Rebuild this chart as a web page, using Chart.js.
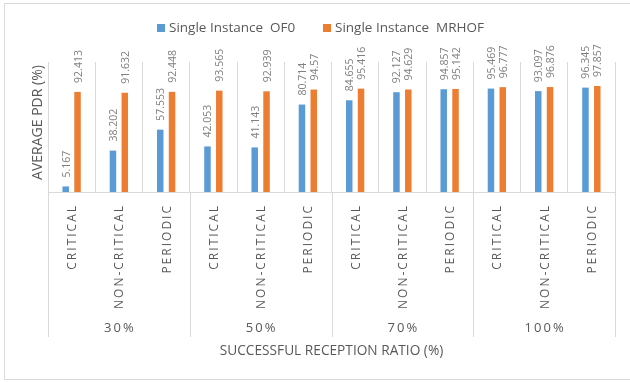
<!DOCTYPE html>
<html>
<head>
<meta charset="utf-8">
<script src="https://cdn.jsdelivr.net/npm/chart.js@4/dist/chart.umd.min.js"></script>
<style>
  html, body { margin: 0; padding: 0; background: #fff; }
  #wrap { width: 630px; height: 382px; position: relative; }
</style>
</head>
<body>
<div id="wrap"><canvas id="pdr" width="630" height="382"></canvas></div>
<script>
// Successful reception ratio groups and traffic types within each group
const groups = ['30%', '50%', '70%', '100%'];
const trafficTypes = ['CRITICAL', 'NON-CRITICAL', 'PERIODIC'];
const categories = groups.flatMap(() => trafficTypes);

// Average PDR (%) per category
const of0Values   = [5.167, 38.202, 57.553, 42.053, 41.143, 80.714, 84.655, 92.127, 94.857, 95.469, 93.097, 96.345];
const mrhofValues = [92.413, 91.632, 92.448, 93.565, 92.939, 94.57, 95.416, 94.629, 95.142, 96.777, 96.876, 97.857];

const seriesNames = ['Single Instance  OF0', 'Single Instance  MRHOF'];
const seriesColors = ['#5B9BD5', '#ED7D31'];
const yTitle = 'AVERAGE PDR (%)';
const xTitle = 'SUCCESSFUL RECEPTION RATIO (%)';

const FONT = '"Open Sans", "Noto Sans", sans-serif';
const GRID = '#d9d9d9';
const TEXT = '#595959';

// Frame, value labels, two-level category axis, titles and legend
const decorations = {
  id: 'decorations',
  beforeDraw(chart) {
    const ctx = chart.ctx;
    ctx.save();
    ctx.fillStyle = '#fff';
    ctx.fillRect(0, 0, chart.width, chart.height);
    ctx.strokeStyle = GRID;
    ctx.lineWidth = 1;
    ctx.beginPath();
    ctx.moveTo(chart.width, 3.5); ctx.lineTo(4.5, 3.5);
    ctx.lineTo(4.5, 379.5); ctx.lineTo(chart.width, 379.5);
    ctx.stroke();
    ctx.restore();
  },
  afterDraw(chart) {
    const ctx = chart.ctx;
    const area = chart.chartArea;
    const xs = chart.scales.x;

    // value labels above each bar
    ctx.save();
    ctx.fillStyle = '#7f7f7f';
    ctx.font = '10.5px ' + FONT;
    ctx.textAlign = 'left';
    ctx.textBaseline = 'middle';
    chart.data.datasets.forEach((ds, di) => {
      chart.getDatasetMeta(di).data.forEach((bar, i) => {
        ctx.save();
        ctx.translate(bar.x + 1, bar.y - 9);
        ctx.rotate(-Math.PI / 2);
        ctx.fillText(String(ds.data[i]), 0, 0);
        ctx.restore();
      });
    });
    ctx.restore();

    // traffic type labels (rotated)
    ctx.save();
    ctx.fillStyle = TEXT;
    ctx.font = '12px ' + FONT;
    ctx.letterSpacing = '2px';
    ctx.textAlign = 'right';
    ctx.textBaseline = 'middle';
    categories.forEach((lab, i) => {
      ctx.save();
      ctx.translate(xs.getPixelForValue(i) + 1, area.bottom + 12);
      ctx.rotate(-Math.PI / 2);
      ctx.fillText(lab, 0, 0);
      ctx.restore();
    });
    ctx.restore();

    // group separators below the axis
    ctx.save();
    ctx.strokeStyle = GRID;
    ctx.lineWidth = 1;
    for (let g = 0; g <= groups.length; g++) {
      const px = Math.round(xs.getPixelForValue(g * trafficTypes.length - 0.5)) + 0.5;
      ctx.beginPath();
      ctx.moveTo(px, area.bottom);
      ctx.lineTo(px, 337);
      ctx.stroke();
    }
    ctx.restore();

    // group labels
    ctx.save();
    ctx.fillStyle = TEXT;
    ctx.font = '13px ' + FONT;
    ctx.letterSpacing = '2px';
    ctx.textAlign = 'center';
    ctx.textBaseline = 'middle';
    groups.forEach((g, gi) => {
      const mid = xs.getPixelForValue(gi * trafficTypes.length + 1);
      ctx.fillText(g, mid + 1, 328);
    });
    ctx.restore();

    // axis titles
    ctx.save();
    ctx.fillStyle = TEXT;
    ctx.font = '13.7px ' + FONT;
    ctx.textAlign = 'center';
    ctx.textBaseline = 'middle';
    ctx.fillText(xTitle, (area.left + area.right) / 2, 351);
    ctx.font = '14px ' + FONT;
    ctx.translate(38, 122.5);
    ctx.rotate(-Math.PI / 2);
    ctx.fillText(yTitle, 0, 0);
    ctx.restore();

    // legend
    ctx.save();
    ctx.font = '13.5px ' + FONT;
    ctx.textAlign = 'left';
    ctx.textBaseline = 'middle';
    const legendX = [157, 323];
    chart.data.datasets.forEach((ds, di) => {
      ctx.fillStyle = ds.backgroundColor;
      ctx.fillRect(legendX[di], 24, 8, 8);
      ctx.fillStyle = TEXT;
      ctx.fillText(ds.label, legendX[di] + 12, 28);
    });
    ctx.restore();
  }
};

new Chart(document.getElementById('pdr'), {
  type: 'bar',
  data: {
    labels: categories,
    datasets: [
      { label: seriesNames[0], data: of0Values, backgroundColor: seriesColors[0],
        barPercentage: 0.55, categoryPercentage: 0.5 },
      { label: seriesNames[1], data: mrhofValues, backgroundColor: seriesColors[1],
        barPercentage: 0.55, categoryPercentage: 0.5 }
    ]
  },
  options: {
    responsive: false,
    animation: false,
    devicePixelRatio: 1,
    layout: { padding: { left: 48, right: 15, top: 62, bottom: 0 } },
    plugins: { legend: { display: false }, tooltip: { enabled: false } },
    scales: {
      x: {
        grid: { offset: true, color: GRID, lineWidth: 1, drawTicks: false },
        border: { color: GRID },
        ticks: { display: false },
        afterFit(scale) { scale.height = 190; }
      },
      y: { display: false, min: 0, max: 120 }
    }
  },
  plugins: [decorations]
});
</script>
</body>
</html>
